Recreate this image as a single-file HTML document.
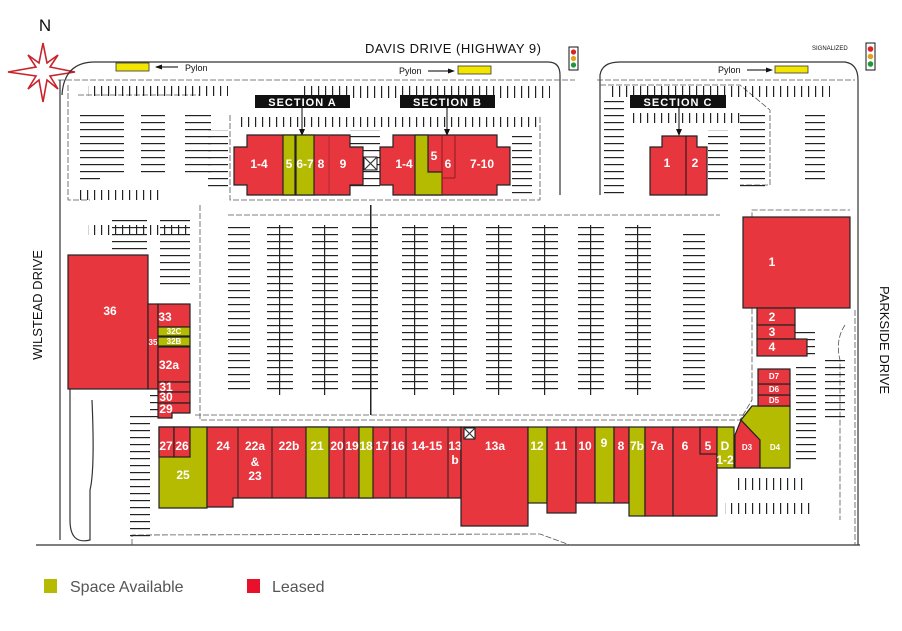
<!DOCTYPE html>
<html><head><meta charset="utf-8"><style>
body{margin:0;background:#fff;}
svg{display:block;font-family:"Liberation Sans",Arial,sans-serif;}
.r{fill:#e8363f;stroke:#222;stroke-width:1.2}
.g{fill:#b4bb00;stroke:#222;stroke-width:1.2}
.t{fill:#fff;font-weight:bold;font-size:12px;text-anchor:middle}
.ts{fill:#fff;font-weight:bold;font-size:8px;text-anchor:middle}
.ln{stroke:#333;stroke-width:1.2;fill:none}
.lt{stroke:#555;stroke-width:0.8;fill:none;stroke-dasharray:6 2}
</style></head><body>
<svg width="902" height="631" viewBox="0 0 902 631">
<defs>
<pattern id="hs" width="10" height="7" patternUnits="userSpaceOnUse"><rect x="0" y="3" width="10" height="1.2" fill="#222"/></pattern>
<pattern id="vs" width="7" height="10" patternUnits="userSpaceOnUse"><rect x="3" y="0" width="1.2" height="10" fill="#222"/></pattern>
</defs>
<!-- compass -->
<text x="45" y="31" font-size="17" text-anchor="middle" fill="#111">N</text>
<polygon points="43,43 47,63 58,55 50,67 75,72 50,76 58,89 47,80 43,102 39,80 28,89 36,76 8,72 36,67 28,55 39,63" fill="#fff" stroke="#c8242c" stroke-width="1.6"/>
<!-- road text -->
<text x="365" y="53" font-size="13" fill="#111" letter-spacing="0.5">DAVIS DRIVE   (HIGHWAY 9)</text>
<text x="812" y="50" font-size="6" fill="#111">SIGNALIZED</text>
<text transform="translate(42,305) rotate(-90)" font-size="13" text-anchor="middle" fill="#111">WILSTEAD DRIVE</text>
<text transform="translate(880,340) rotate(90)" font-size="13" text-anchor="middle" fill="#111">PARKSIDE DRIVE</text>
<!-- traffic lights -->
<rect x="569" y="47" width="9" height="23" fill="#fff" stroke="#111"/><circle cx="573.5" cy="52" r="2.6" fill="#d22"/><circle cx="573.5" cy="58.5" r="2.6" fill="#e0a020"/><circle cx="573.5" cy="65" r="2.6" fill="#1a9a3a"/>
<rect x="866" y="43" width="9" height="27" fill="#fff" stroke="#111"/><circle cx="870.5" cy="49" r="2.8" fill="#d22"/><circle cx="870.5" cy="56.5" r="2.8" fill="#e0a020"/><circle cx="870.5" cy="64" r="2.8" fill="#1a9a3a"/>
<!-- pylons -->
<rect x="116" y="63" width="33" height="8" fill="#f2e600" stroke="#333" stroke-width="0.8"/>
<path d="M156 67 H178" class="ln"/><polygon points="155,67 162,64.5 162,69.5" fill="#111"/>
<text x="185" y="71" font-size="9" fill="#111">Pylon</text>
<text x="399" y="74" font-size="9" fill="#111">Pylon</text><path d="M428 71 H452" class="ln"/><polygon points="455,71 448,68.5 448,73.5" fill="#111"/>
<rect x="458" y="66" width="33" height="8" fill="#f2e600" stroke="#333" stroke-width="0.8"/>
<text x="718" y="73" font-size="9" fill="#111">Pylon</text><path d="M747 70 H770" class="ln"/><polygon points="773,70 766,67.5 766,72.5" fill="#111"/>
<rect x="775" y="66" width="33" height="7" fill="#f2e600" stroke="#333" stroke-width="0.8"/>
<!-- road / site outlines -->
<path d="M62 95 Q64 62 95 62 H548 Q560 62 560 75 V195" class="ln"/>
<path d="M600 195 V75 Q602 62 620 62 H845 Q858 64 858 80 V545" class="ln"/>
<path d="M58 80 H575 M597 80 H855" class="lt"/>
<path d="M60 80 V540 M36 545 H860" class="ln"/>
<path d="M68 85 V200 H90 M78 95 H200 M600 85 H740 L770 110 V185 H740" class="lt"/>
<path d="M132 545 V535 L540 534 L570 545" class="lt"/>
<path d="M70 270 V520 Q70 545 90 540 V490 Q95 470 92 400" class="ln"/>
<path d="M200 205 V420 H740 L752 400 V210 H850 M195 415 H745" class="lt"/>
<path d="M230 115 V200 H540 V115 M228 215 H720" class="lt"/>
<path d="M855 310 V545 M845 325 Q835 340 840 360 V520" class="lt"/>
<!-- parking stalls -->
<g>
<rect x="300" y="86" width="250" height="12" fill="url(#vs)"/>
<rect x="88" y="86" width="140" height="10" fill="url(#vs)"/>
<rect x="240" y="117" width="300" height="10" fill="url(#vs)"/>
<rect x="610" y="86" width="220" height="11" fill="url(#vs)"/>
<rect x="630" y="113" width="110" height="10" fill="url(#vs)"/>
<rect x="80" y="190" width="80" height="10" fill="url(#vs)"/>
<rect x="80" y="110" width="20" height="75" fill="url(#hs)"/>
<rect x="100" y="112" width="24" height="62" fill="url(#hs)"/>
<rect x="141" y="112" width="24" height="62" fill="url(#hs)"/>
<rect x="185" y="112" width="26" height="62" fill="url(#hs)"/>
<rect x="208" y="130" width="20" height="60" fill="url(#hs)"/>
<rect x="350" y="130" width="30" height="60" fill="url(#hs)"/>
<rect x="512" y="135" width="20" height="60" fill="url(#hs)"/>
<rect x="604" y="100" width="20" height="95" fill="url(#hs)"/>
<rect x="708" y="130" width="20" height="55" fill="url(#hs)"/>
<rect x="740" y="115" width="25" height="75" fill="url(#hs)"/>
<rect x="805" y="110" width="20" height="70" fill="url(#hs)"/>
<rect x="88" y="225" width="100" height="10" fill="url(#vs)"/>
<rect x="112" y="215" width="35" height="40" fill="url(#hs)"/>
<rect x="160" y="220" width="30" height="70" fill="url(#hs)"/>
<rect x="130" y="415" width="20" height="125" fill="url(#hs)"/>
<rect x="150" y="395" width="12" height="25" fill="url(#hs)"/>
<rect x="228" y="225" width="22" height="170" fill="url(#hs)"/>
<rect x="267" y="225" width="26" height="170" fill="url(#hs)"/><rect x="279" y="225" width="1.2" height="170" fill="#222"/>
<rect x="312" y="225" width="26" height="170" fill="url(#hs)"/><rect x="324" y="225" width="1.2" height="170" fill="#222"/>
<rect x="352" y="225" width="26" height="170" fill="url(#hs)"/><rect x="370" y="205" width="1.5" height="210" fill="#222"/>
<rect x="402" y="225" width="26" height="170" fill="url(#hs)"/><rect x="414" y="225" width="1.2" height="170" fill="#222"/>
<rect x="441" y="225" width="26" height="170" fill="url(#hs)"/><rect x="453" y="225" width="1.2" height="170" fill="#222"/>
<rect x="486" y="225" width="26" height="170" fill="url(#hs)"/><rect x="498" y="225" width="1.2" height="170" fill="#222"/>
<rect x="532" y="225" width="26" height="170" fill="url(#hs)"/><rect x="544" y="225" width="1.2" height="170" fill="#222"/>
<rect x="578" y="225" width="26" height="170" fill="url(#hs)"/><rect x="590" y="225" width="1.2" height="170" fill="#222"/>
<rect x="625" y="225" width="26" height="170" fill="url(#hs)"/><rect x="637" y="225" width="1.2" height="170" fill="#222"/>
<rect x="683" y="230" width="22" height="160" fill="url(#hs)"/>
<rect x="795" y="330" width="20" height="30" fill="url(#hs)"/>
<rect x="796" y="362" width="20" height="100" fill="url(#hs)"/>
<rect x="825" y="360" width="20" height="60" fill="url(#hs)"/>
<rect x="735" y="478" width="70" height="12" fill="url(#vs)"/>
<rect x="725" y="503" width="85" height="11" fill="url(#vs)"/>
</g>
<!-- section labels -->
<rect x="255" y="95" width="95" height="13" fill="#111"/><text x="302.5" y="106" font-size="11" font-weight="bold" fill="#fff" text-anchor="middle" letter-spacing="1">SECTION A</text>
<rect x="400" y="95" width="95" height="13" fill="#111"/><text x="447.5" y="106" font-size="11" font-weight="bold" fill="#fff" text-anchor="middle" letter-spacing="1">SECTION B</text>
<rect x="630" y="95" width="96" height="13" fill="#111"/><text x="678" y="106" font-size="11" font-weight="bold" fill="#fff" text-anchor="middle" letter-spacing="1">SECTION C</text>
<path d="M302 108 V133 M447 108 V133 M679 108 V133" class="ln"/>
<polygon points="302,136 299,129 305,129" fill="#111"/><polygon points="447,136 444,129 450,129" fill="#111"/><polygon points="679,136 676,129 682,129" fill="#111"/>
<!-- Section A -->
<polygon class="r" points="247,135 350,135 350,147 363,147 363,185 350,185 350,195 247,195 247,185 234,185 234,147 247,147"/>
<rect class="g" x="283" y="135" width="12" height="60"/><rect class="g" x="296" y="135" width="18" height="60"/>
<line x1="329" y1="135" x2="329" y2="195" stroke="#b02830"/>
<text class="t" x="259" y="168">1-4</text><text class="t" x="289" y="168">5</text><text class="t" x="305" y="168">6-7</text><text class="t" x="321" y="168">8</text><text class="t" x="343" y="168">9</text>
<rect x="364" y="157" width="13" height="13" fill="#fff" stroke="#111"/><path d="M364 157 L377 170 M377 157 L364 170" class="ln"/>
<!-- Section B -->
<polygon class="r" points="393,135 497,135 497,147 510,147 510,185 497,185 497,195 393,195 393,185 380,185 380,147 393,147"/>
<polygon class="g" points="415,135 428,135 428,172 442,172 442,195 415,195"/>
<path d="M442 135 V195 M455 135 V178 M442 178 H455" stroke="#8a1c22" fill="none"/>
<text class="t" x="404" y="168">1-4</text><text class="t" x="434" y="160">5</text><text class="t" x="448" y="168">6</text><text class="t" x="482" y="168">7-10</text>
<!-- Section C -->
<polygon class="r" points="662,136 697,136 697,147 707,147 707,195 650,195 650,147 662,147"/>
<line x1="686" y1="136" x2="686" y2="195" stroke="#111"/>
<text class="t" x="667" y="167">1</text><text class="t" x="695" y="167">2</text>
<!-- West anchor -->
<rect class="r" x="68" y="255" width="80" height="134"/>
<text class="t" x="110" y="315">36</text>
<rect class="r" x="148" y="304" width="10" height="85"/><text class="ts" x="153" y="345">35</text>
<rect class="r" x="158" y="304" width="32" height="23"/><text class="t" x="165" y="321" font-size="10" text-anchor="start">33</text>
<rect class="g" x="158" y="327" width="32" height="9"/><text class="ts" x="174" y="334" font-size="6.5">32C</text>
<rect class="g" x="158" y="337" width="32" height="9"/><text class="ts" x="174" y="344" font-size="6.5">32B</text>
<rect class="r" x="158" y="347" width="32" height="35"/><text class="t" x="169" y="369" font-size="11">32a</text>
<rect class="r" x="158" y="382" width="32" height="10"/><text class="t" x="166" y="391" font-size="10">31</text>
<rect class="r" x="158" y="392" width="32" height="11"/><text class="t" x="166" y="401" font-size="10">30</text>
<polygon class="r" points="158,403 190,403 190,413 172,413 172,418 158,418"/><text class="t" x="166" y="413" font-size="10">29</text>
<!-- bottom strip -->
<polygon class="g" points="159,427 207,427 207,508 159,508"/>
<rect class="r" x="159" y="427" width="15" height="30"/><rect class="r" x="174" y="427" width="16" height="30"/>
<text class="t" x="166" y="450">27</text><text class="t" x="182" y="450">26</text><text class="t" x="183" y="479">25</text>
<polygon class="r" points="207,427 461,427 461,498 233,498 233,507 207,507"/>
<rect class="g" x="306" y="427" width="23" height="71"/><rect class="g" x="359" y="427" width="14" height="71"/>
<path d="M238 427 V498 M272 427 V498 M344 427 V498 M390 427 V498 M406 427 V498 M448 427 V498" stroke="#222" fill="none"/>
<text class="t" x="223" y="450">24</text><text class="t" x="255" y="450">22a</text><text class="t" x="255" y="466">&amp;</text><text class="t" x="255" y="480">23</text>
<text class="t" x="289" y="450">22b</text><text class="t" x="317" y="450">21</text><text class="t" x="337" y="450">20</text><text class="t" x="352" y="450">19</text><text class="t" x="366" y="450">18</text><text class="t" x="382" y="450">17</text><text class="t" x="398" y="450">16</text><text class="t" x="427" y="450">14-15</text><text class="t" x="455" y="450">13</text><text class="t" x="455" y="464">b</text>
<polygon class="r" points="461,427 528,427 528,526 461,526"/>
<text class="t" x="495" y="450">13a</text>
<rect x="464" y="428" width="11" height="11" fill="#fff" stroke="#111"/><path d="M464 428 L475 439 M475 428 L464 439" class="ln"/>
<rect class="g" x="528" y="427" width="19" height="76"/><text class="t" x="537" y="450">12</text>
<rect class="r" x="547" y="427" width="29" height="86"/><text class="t" x="561" y="450">11</text>
<rect class="r" x="576" y="427" width="19" height="76"/><text class="t" x="585" y="450">10</text>
<rect class="g" x="595" y="427" width="19" height="76"/><text class="t" x="604" y="447">9</text>
<rect class="r" x="614" y="427" width="15" height="76"/><text class="t" x="621" y="450">8</text>
<rect class="g" x="629" y="427" width="16" height="89"/><text class="t" x="637" y="450">7b</text>
<rect class="r" x="645" y="427" width="28" height="89"/><text class="t" x="657" y="450">7a</text>
<polygon class="r" points="673,427 717,427 717,516 673,516"/>
<rect class="r" x="700" y="427" width="17" height="27"/><text class="t" x="685" y="450">6</text><text class="t" x="708" y="450">5</text>
<rect class="g" x="717" y="427" width="17" height="41"/><text class="t" x="725" y="450">D</text><text class="t" x="725" y="464">1-2</text>
<polygon class="r" points="735,435 741,420 760,440 760,468 735,468"/><text class="ts" x="747" y="450">D3</text>
<polygon class="g" points="741,420 752,406 790,406 790,468 760,468 760,440"/><text class="ts" x="775" y="450">D4</text>
<rect class="r" x="758" y="395" width="32" height="11"/><text class="ts" x="774" y="403">D5</text>
<rect class="r" x="758" y="384" width="32" height="11"/><text class="ts" x="774" y="392">D6</text>
<rect class="r" x="758" y="369" width="32" height="15"/><text class="ts" x="774" y="379">D7</text>
<!-- east anchor -->
<rect class="r" x="743" y="217" width="107" height="91"/><text class="t" x="772" y="266">1</text>
<rect class="r" x="757" y="308" width="38" height="17"/><text class="t" x="772" y="321">2</text>
<rect class="r" x="757" y="325" width="38" height="14"/><text class="t" x="772" y="336">3</text>
<rect class="r" x="757" y="339" width="50" height="17"/><text class="t" x="772" y="351">4</text>
<!-- legend -->
<rect x="44" y="579" width="13" height="14" fill="#b4bb00"/>
<text x="70" y="592" font-size="16" fill="#555">Space Available</text>
<rect x="247" y="579" width="13" height="14" fill="#e8102a"/>
<text x="272" y="592" font-size="16" fill="#555">Leased</text>
</svg>
</body></html>
